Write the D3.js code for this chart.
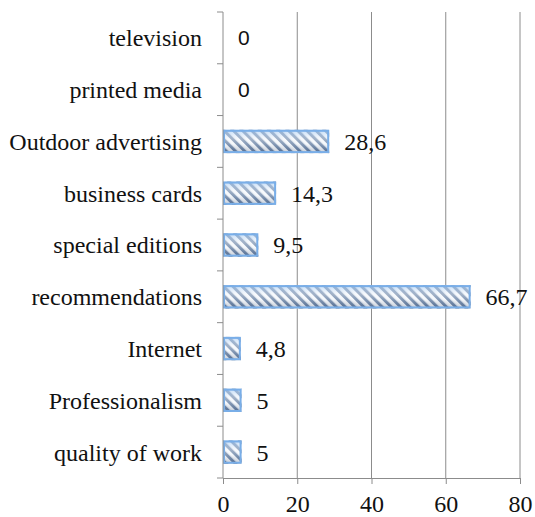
<!DOCTYPE html>
<html>
<head>
<meta charset="utf-8">
<script src="https://cdn.jsdelivr.net/npm/d3@7"></script>
<style>
  html, body { margin: 0; padding: 0; background: #fff; }
  svg { display: block; }
</style>
</head>
<body>
<svg id="chart" width="535" height="517"></svg>
<script>
// Categories listed from bottom to top as they appear on the axis
const categories = [
  "quality of work", "Professionalism", "Internet", "recommendations",
  "special editions", "business cards", "Outdoor advertising",
  "printed media", "television"
];
const values = [5, 5, 4.8, 66.7, 9.5, 14.3, 28.6, 0, 0];
const valueLabels = ["5", "5", "4,8", "66,7", "9,5", "14,3", "28,6", "0", "0"];
const xTicks = [0, 20, 40, 60, 80];

const svg = d3.select("#chart");
const margin = { left: 223, right: 15, top: 12, bottom: 39 };
const W = 535, H = 517;
const plotW = W - margin.left - margin.right;
const plotH = H - margin.top - margin.bottom;
const serif = "Liberation Serif, Times New Roman, serif";

const x = d3.scaleLinear().domain([0, 80]).range([0, plotW]);
const y = d3.scaleBand().domain(categories.slice().reverse()).range([0, plotH])
  .paddingInner(0.55).paddingOuter(0.275);

const defs = svg.append("defs");
// diagonal hatch
const pat = defs.append("pattern")
  .attr("id", "hatch").attr("patternUnits", "userSpaceOnUse")
  .attr("width", 6.5).attr("height", 6.5)
  .attr("patternTransform", "rotate(-45)");
pat.append("rect").attr("width", 6.5).attr("height", 6.5).attr("fill", "#f2f6fb");
pat.append("rect").attr("width", 3).attr("height", 6.5).attr("fill", "#55729a");

// soft vertical shading over the hatch
const grad = defs.append("linearGradient").attr("id", "shade")
  .attr("x1", 0).attr("y1", 0).attr("x2", 0).attr("y2", 1);
grad.append("stop").attr("offset", "0%").attr("stop-color", "#a8cdf5").attr("stop-opacity", 0.7);
grad.append("stop").attr("offset", "40%").attr("stop-color", "#ffffff").attr("stop-opacity", 0.45);
grad.append("stop").attr("offset", "60%").attr("stop-color", "#ffffff").attr("stop-opacity", 0.3);
grad.append("stop").attr("offset", "100%").attr("stop-color", "#4a5870").attr("stop-opacity", 0.25);

const g = svg.append("g").attr("transform", `translate(${margin.left},${margin.top})`);

// vertical gridlines
g.append("g").selectAll("line").data(xTicks.filter(t => t > 0)).join("line")
  .attr("x1", d => x(d)).attr("x2", d => x(d))
  .attr("y1", 0).attr("y2", plotH)
  .attr("stroke", "#8c8c8c").attr("stroke-width", 1);

// bars
const bars = g.append("g").selectAll("g").data(categories).join("g");
bars.filter((d, i) => values[i] > 0).each(function(d) {
  const i = categories.indexOf(d);
  const sel = d3.select(this);
  const bx = x(0), bw = x(values[i]) - x(0), by = y(d), bh = y.bandwidth();
  sel.append("rect").attr("x", bx).attr("y", by).attr("width", bw).attr("height", bh)
    .attr("fill", "url(#hatch)");
  sel.append("rect").attr("x", bx).attr("y", by).attr("width", bw).attr("height", bh)
    .attr("fill", "url(#shade)");
  sel.append("rect").attr("x", bx + 1).attr("y", by + 1).attr("width", Math.max(0, bw - 2)).attr("height", bh - 2)
    .attr("fill", "none").attr("stroke", "#79aee8").attr("stroke-width", 2);
});

// value labels
g.append("g").selectAll("text").data(categories).join("text")
  .attr("x", (d, i) => x(values[i]) + 15)
  .attr("y", d => y(d) + y.bandwidth() / 2)
  .attr("dy", "0.35em")
  .attr("font-family", (d, i) => values[i] > 0 ? serif : "Liberation Sans, Arial, sans-serif")
  .attr("font-size", (d, i) => values[i] > 0 ? 24 : 21)
  .attr("fill", "#111")
  .text((d, i) => valueLabels[i]);

// left axis
const yAxis = g.append("g");
yAxis.append("line").attr("x1", 0).attr("x2", 0).attr("y1", 0).attr("y2", plotH)
  .attr("stroke", "#8c8c8c");
const step = plotH / categories.length;
yAxis.selectAll("line.tk").data(d3.range(categories.length + 1)).join("line")
  .attr("class", "tk")
  .attr("x1", -6).attr("x2", 0)
  .attr("y1", d => d * step).attr("y2", d => d * step)
  .attr("stroke", "#8c8c8c");
yAxis.selectAll("text").data(categories).join("text")
  .attr("x", -21)
  .attr("y", d => y(d) + y.bandwidth() / 2)
  .attr("dy", "0.35em")
  .attr("text-anchor", "end")
  .attr("font-family", serif)
  .attr("font-size", 24)
  .attr("fill", "#111")
  .text(d => d);

// bottom axis
const xAxis = g.append("g").attr("transform", `translate(0,${plotH})`)
  .call(d3.axisBottom(x).tickValues(xTicks).tickSize(6).tickSizeOuter(0).tickPadding(11));
xAxis.select(".domain").attr("stroke", "#8c8c8c");
xAxis.selectAll(".tick line").attr("stroke", "#8c8c8c");
xAxis.selectAll(".tick text")
  .attr("font-family", serif)
  .attr("font-size", 24)
  .attr("fill", "#111");
</script>
</body>
</html>
